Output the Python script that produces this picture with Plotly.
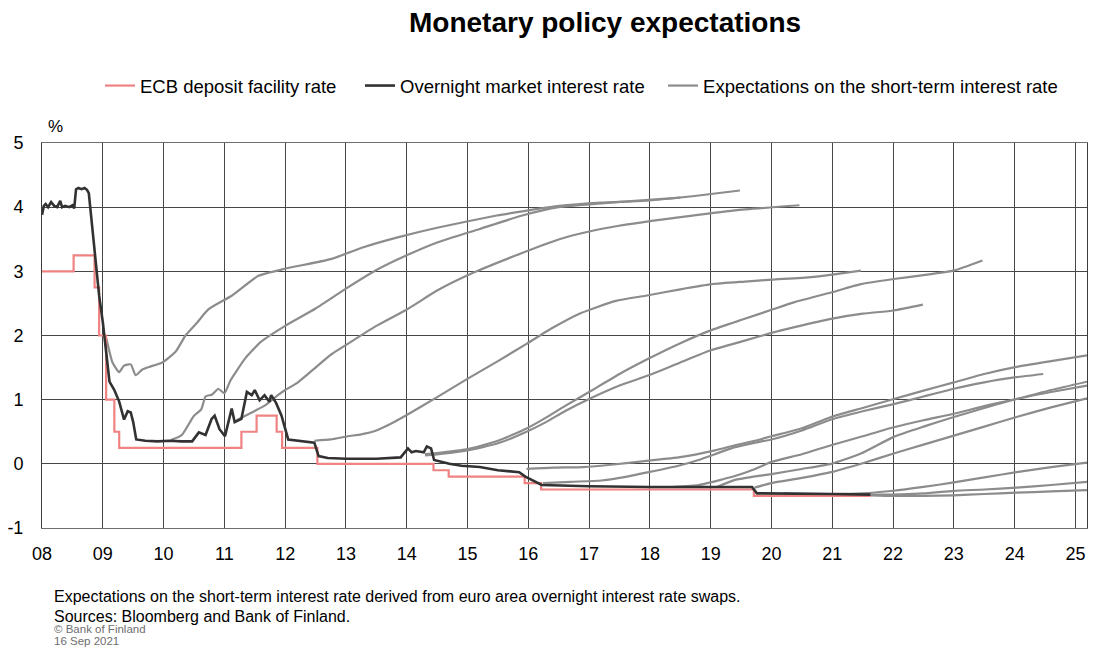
import plotly.graph_objects as go

# ---- data (decimal years, %) ----
ecb_t = [2008.0, 2008.52, 2008.865, 2008.94, 2009.055, 2009.19, 2009.27, 2011.28, 2011.53, 2011.86, 2011.95,
         2012.53, 2014.44, 2014.69, 2015.94, 2016.21, 2019.71, 2021.63]
ecb_v = [3.00, 3.25, 2.75, 2.00, 1.00, 0.50, 0.25, 0.50, 0.75, 0.50, 0.25,
         0.00, -0.10, -0.20, -0.30, -0.40, -0.50, -0.50]

on_t = [2008.00, 2008.03, 2008.06, 2008.10, 2008.15, 2008.20, 2008.25, 2008.30, 2008.33, 2008.38, 2008.45,
        2008.50, 2008.53, 2008.56, 2008.60, 2008.65, 2008.70, 2008.74, 2008.77, 2008.85, 2008.94, 2009.00,
        2009.06, 2009.11, 2009.19, 2009.27, 2009.35, 2009.41, 2009.46, 2009.50, 2009.55, 2009.70, 2009.90,
        2010.10, 2010.30, 2010.47, 2010.58, 2010.69, 2010.79, 2010.84, 2010.92, 2011.01, 2011.12, 2011.17,
        2011.28, 2011.37, 2011.45, 2011.50, 2011.58, 2011.66, 2011.74, 2011.77, 2011.85, 2011.94, 2012.05,
        2012.30, 2012.48, 2012.55, 2012.70, 2013.00, 2013.50, 2013.90, 2014.02, 2014.08, 2014.15, 2014.28,
        2014.33, 2014.40, 2014.45, 2014.70, 2014.90, 2015.20, 2015.50, 2015.85, 2015.95, 2016.22, 2016.50,
        2017.00, 2018.00, 2019.00, 2019.68, 2019.76, 2020.50, 2021.00, 2021.63]
on_v = [3.88, 4.02, 4.05, 4.00, 4.08, 4.02, 4.00, 4.10, 4.00, 4.02, 4.00,
        4.03, 3.98, 4.28, 4.30, 4.28, 4.30, 4.27, 4.22, 3.50, 2.62, 2.21,
        1.65, 1.28, 1.15, 0.97, 0.69, 0.82, 0.80, 0.65, 0.38, 0.36, 0.35,
        0.36, 0.35, 0.35, 0.49, 0.45, 0.70, 0.75, 0.54, 0.43, 0.86, 0.65,
        0.70, 1.12, 1.07, 1.15, 0.99, 1.07, 0.97, 1.07, 0.95, 0.75, 0.38,
        0.35, 0.33, 0.12, 0.09, 0.08, 0.08, 0.10, 0.24, 0.18, 0.20, 0.18,
        0.27, 0.24, 0.06, 0.00, -0.03, -0.05, -0.10, -0.13, -0.20, -0.33, -0.34,
        -0.35, -0.36, -0.36, -0.36, -0.46, -0.46, -0.47, -0.48]

# expectation curves, one pair of lists per curve
exp_a_t = [2009.06, 2009.16, 2009.27, 2009.35, 2009.46, 2009.54, 2009.65, 2009.76, 2009.98, 2010.20, 2010.36,
           2010.55, 2010.74, 2011.12, 2011.56, 2011.99, 2012.75, 2013.30, 2013.85, 2014.50, 2015.48, 2016.00,
           2016.51, 2017.20, 2017.93, 2018.70, 2019.48]
exp_a_v = [1.95, 1.58, 1.43, 1.53, 1.55, 1.38, 1.47, 1.51, 1.58, 1.75, 2.00,
           2.20, 2.41, 2.62, 2.93, 3.04, 3.19, 3.38, 3.53, 3.68, 3.87, 3.95,
           4.02, 4.07, 4.10, 4.17, 4.26]
exp_b_t = [2010.12, 2010.30, 2010.50, 2010.62, 2010.69, 2010.80, 2010.90, 2011.00, 2011.10, 2011.34, 2011.60,
           2012.00, 2012.50, 2013.00, 2013.50, 2014.00, 2014.50, 2015.20, 2015.90, 2016.50, 2017.20, 2017.93,
           2018.50]
exp_b_v = [0.37, 0.45, 0.75, 0.85, 1.05, 1.08, 1.17, 1.10, 1.30, 1.64, 1.90,
           2.15, 2.42, 2.73, 3.02, 3.25, 3.45, 3.66, 3.87, 4.00, 4.06, 4.11,
           4.15]
exp_c_t = [2011.20, 2011.45, 2011.67, 2011.88, 2012.00, 2012.21, 2012.50, 2012.75, 2013.03, 2013.50, 2014.01,
           2014.50, 2015.10, 2015.80, 2016.51, 2017.00, 2017.49, 2018.47, 2019.40, 2020.46]
exp_c_v = [0.68, 0.80, 0.91, 1.07, 1.15, 1.27, 1.50, 1.70, 1.87, 2.15, 2.41,
           2.70, 2.98, 3.25, 3.50, 3.62, 3.71, 3.84, 3.95, 4.03]
exp_d_t = [2012.48, 2012.75, 2013.03, 2013.25, 2013.50, 2013.73, 2014.00, 2014.50, 2014.99, 2015.50, 2015.97,
           2016.40, 2016.84, 2017.44, 2017.93, 2018.50, 2019.02, 2019.56, 2020.00, 2020.65, 2021.00, 2021.47]
exp_d_v = [0.36, 0.38, 0.43, 0.46, 0.52, 0.62, 0.76, 1.04, 1.32, 1.60, 1.87,
           2.12, 2.34, 2.54, 2.62, 2.72, 2.80, 2.84, 2.87, 2.91, 2.95, 3.01]
exp_e_t = [2014.30, 2014.60, 2015.00, 2015.50, 2015.97, 2016.29, 2016.60, 2017.00, 2017.50, 2017.98, 2018.50,
           2019.00, 2019.56, 2020.00, 2020.38, 2020.98, 2021.47, 2022.01, 2022.50, 2022.99, 2023.47]
exp_e_v = [0.15, 0.18, 0.23, 0.36, 0.55, 0.72, 0.90, 1.12, 1.40, 1.64, 1.88,
           2.08, 2.26, 2.40, 2.52, 2.67, 2.80, 2.88, 2.94, 3.01, 3.17]
exp_f_t = [2014.30, 2014.60, 2015.00, 2015.50, 2015.97, 2016.29, 2016.60, 2017.00, 2017.50, 2017.98, 2018.50,
           2019.00, 2019.56, 2020.00, 2020.38, 2020.98, 2021.50, 2022.01, 2022.49]
exp_f_v = [0.13, 0.16, 0.21, 0.32, 0.50, 0.65, 0.82, 1.01, 1.22, 1.38, 1.58,
           1.77, 1.92, 2.04, 2.13, 2.26, 2.34, 2.39, 2.48]
exp_g_t = [2015.97, 2016.40, 2016.90, 2017.40, 2017.98, 2018.47, 2019.07, 2019.40, 2019.73, 2020.00, 2020.49,
           2020.98, 2021.50, 2022.01, 2022.50, 2023.00, 2023.50, 2024.03, 2024.60, 2025.19]
exp_g_v = [-0.08, -0.06, -0.05, -0.01, 0.05, 0.10, 0.21, 0.29, 0.36, 0.43, 0.55,
           0.73, 0.87, 1.01, 1.14, 1.27, 1.40, 1.51, 1.60, 1.69]
exp_h_t = [2016.24, 2016.70, 2017.20, 2017.50, 2017.98, 2018.47, 2018.80, 2019.40, 2019.73, 2020.00, 2020.50,
           2020.98, 2021.50, 2022.01, 2022.50, 2023.00, 2023.50, 2024.03, 2024.47]
exp_h_v = [-0.30, -0.28, -0.26, -0.22, -0.13, -0.03, 0.06, 0.26, 0.33, 0.38, 0.52,
           0.69, 0.82, 0.93, 1.05, 1.17, 1.27, 1.35, 1.40]
exp_i_t = [2018.40, 2018.80, 2019.20, 2019.40, 2019.73, 2020.00, 2020.50, 2020.98, 2021.50, 2022.01, 2022.50,
           2023.00, 2023.50, 2024.03, 2024.60, 2025.19]
exp_i_v = [-0.36, -0.33, -0.24, -0.19, -0.08, 0.03, 0.15, 0.29, 0.43, 0.57, 0.68,
           0.78, 0.90, 1.01, 1.15, 1.28]
exp_j_t = [2019.10, 2019.40, 2019.70, 2020.00, 2020.50, 2020.98, 2021.47, 2022.01, 2022.50, 2023.00, 2023.50,
           2024.03, 2024.60, 2025.19]
exp_j_v = [-0.36, -0.25, -0.20, -0.16, -0.08, 0.00, 0.16, 0.42, 0.58, 0.73, 0.87,
           1.01, 1.12, 1.22]
exp_k_t = [2019.72, 2020.00, 2020.50, 2020.98, 2021.50, 2022.01, 2022.50, 2023.00, 2023.50, 2024.03, 2024.60, 2025.19]
exp_k_v = [-0.37, -0.30, -0.22, -0.13, 0.01, 0.16, 0.30, 0.44, 0.58, 0.73, 0.88, 1.02]
exp_l_t = [2020.20, 2021.00, 2021.50, 2022.01, 2022.50, 2023.00, 2023.50, 2024.03, 2024.60, 2025.19]
exp_l_v = [-0.46, -0.47, -0.46, -0.42, -0.36, -0.29, -0.21, -0.13, -0.05, 0.02]
exp_m_t = [2021.63, 2022.00, 2022.50, 2023.00, 2023.50, 2024.03, 2024.60, 2025.19]
exp_m_v = [-0.48, -0.48, -0.46, -0.42, -0.40, -0.37, -0.33, -0.28]
exp_n_t = [2021.63, 2022.00, 2022.50, 2023.00, 2023.50, 2024.03, 2024.60, 2025.19]
exp_n_v = [-0.49, -0.50, -0.50, -0.49, -0.47, -0.45, -0.43, -0.41]

expectations = [
    (exp_a_t, exp_a_v), (exp_b_t, exp_b_v), (exp_c_t, exp_c_v), (exp_d_t, exp_d_v),
    (exp_e_t, exp_e_v), (exp_f_t, exp_f_v), (exp_g_t, exp_g_v), (exp_h_t, exp_h_v),
    (exp_i_t, exp_i_v), (exp_j_t, exp_j_v), (exp_k_t, exp_k_v), (exp_l_t, exp_l_v),
    (exp_m_t, exp_m_v), (exp_n_t, exp_n_v),
]

year_ticks = list(range(2008, 2026))
year_labels = [f"{y % 100:02d}" for y in year_ticks]
y_ticks = [-1, 0, 1, 2, 3, 4, 5]
y_labels = ["-1", "0", "1", "2", "3", "4", "5"]

# ---- styling ----
FONT = "Liberation Sans, Arial, sans-serif"
RED = "rgb(240,130,130)"
DARK = "rgb(50,50,50)"
GRAY = "rgb(140,140,140)"
GRID = "rgb(70,70,70)"

fig = go.Figure()

for i, (t, v) in enumerate(expectations):
    fig.add_trace(go.Scatter(
        x=t, y=v, mode="lines", line=dict(color=GRAY, width=2.2, shape="spline", smoothing=0.5),
        name="Expectations on the short-term interest rate", legendgroup="exp", legend="legend3",
        showlegend=(i == 0), hoverinfo="skip"))

fig.add_trace(go.Scatter(
    x=ecb_t, y=ecb_v, mode="lines", line=dict(color=RED, width=2.2, shape="hv"),
    name="ECB deposit facility rate", legend="legend"))

fig.add_trace(go.Scatter(
    x=on_t, y=on_v, mode="lines", line=dict(color=DARK, width=2.6),
    name="Overnight market interest rate", legend="legend2"))

leg_common = dict(orientation="h", xanchor="left", y=1.148, yanchor="middle",
                  font=dict(size=18.5, family=FONT), itemwidth=30, bgcolor="rgba(0,0,0,0)")

# page body has an 8px margin: figure is sized so that it fits inside the window without overflow
fig.update_layout(
    width=1081, height=641,
    margin=dict(l=34, r=2, t=135, b=121, autoexpand=False),
    paper_bgcolor="white", plot_bgcolor="white",
    font=dict(family=FONT, color="black"),
    showlegend=True,
    legend=dict(x=0.0555, **leg_common),
    legend2=dict(x=0.3043, **leg_common),
    legend3=dict(x=0.5943, **leg_common),
    xaxis=dict(range=[2008, 2025.19], tickmode="array", tickvals=year_ticks, ticktext=year_labels,
               showgrid=True, gridcolor=GRID, gridwidth=1, zeroline=False,
               showline=True, linecolor="rgb(110,110,110)", linewidth=1, mirror=True,
               ticks="", tickfont=dict(size=18, family=FONT), ticklabelstandoff=9),
    yaxis=dict(range=[-1, 5], tickmode="array", tickvals=y_ticks, ticktext=y_labels,
               showgrid=True, gridcolor=GRID, gridwidth=1, zeroline=False,
               showline=True, linecolor="rgb(60,60,60)", linewidth=1, mirror=True,
               ticks="", tickfont=dict(size=18, family=FONT), ticklabelstandoff=14),
)

annotations = [
    dict(text="<b>Monetary policy expectations</b>", x=0.539, y=1.314, xref="paper", yref="paper",
         xanchor="center", yanchor="middle", showarrow=False, font=dict(size=28, family=FONT)),
    dict(text="%", x=0.004, y=1.042, xref="paper", yref="paper", xanchor="left", yanchor="middle",
         showarrow=False, font=dict(size=17, family=FONT)),
    dict(text="Expectations on the short-term interest rate derived from euro area overnight interest rate swaps.",
         x=0.0096, y=-0.179, xref="paper", yref="paper", xanchor="left", yanchor="middle",
         showarrow=False, font=dict(size=16, family=FONT)),
    dict(text="Sources: Bloomberg and Bank of Finland.",
         x=0.0096, y=-0.231, xref="paper", yref="paper", xanchor="left", yanchor="middle",
         showarrow=False, font=dict(size=16, family=FONT)),
    dict(text="© Bank of Finland", x=0.0096, y=-0.263, xref="paper", yref="paper", xanchor="left",
         yanchor="middle", showarrow=False, font=dict(size=11.5, family=FONT, color="rgb(110,110,110)")),
    dict(text="16 Sep 2021", x=0.0096, y=-0.293, xref="paper", yref="paper", xanchor="left",
         yanchor="middle", showarrow=False, font=dict(size=11.5, family=FONT, color="rgb(110,110,110)")),
]
fig.update_layout(annotations=annotations)

fig.write_html("out.html")
